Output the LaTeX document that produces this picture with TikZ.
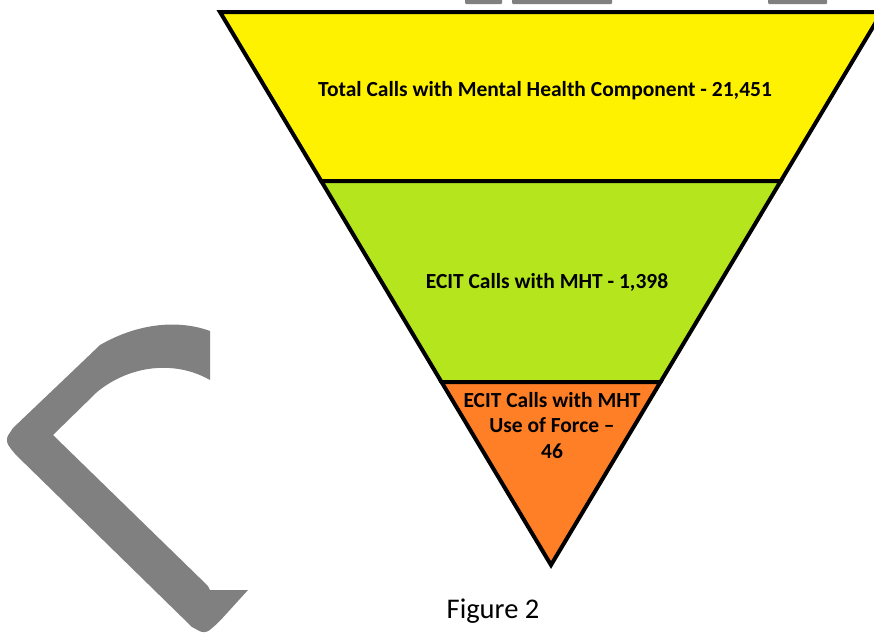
\documentclass[tikz,border=0pt]{standalone}
\usepackage{fontspec}
\setmainfont{Carlito}
\definecolor{ylw}{RGB}{255,242,0}
\definecolor{grn}{RGB}{181,230,29}
\definecolor{org}{RGB}{255,127,39}
\definecolor{gry}{RGB}{128,128,128}
\tikzset{
  band/.style={draw=black,line width=4pt,line join=miter},
  lbl/.style={font=\bfseries\fontsize{21.5}{25.5}\selectfont,align=center,text=black,inner sep=0pt},
  graybit/.style={fill=gry,draw=none}
}
\begin{document}
\begin{tikzpicture}[x=1pt,y=-1pt]
\useasboundingbox (0,0) rectangle (874,633);
\clip (0,0) rectangle (874,633);
% gray decorative shapes
\fill[graybit,rounded corners=1pt] (465,-3) rectangle (502,4);
\fill[graybit,rounded corners=1pt] (512,-3) rectangle (612,4);
\fill[graybit,rounded corners=1pt] (768,-3) rectangle (827,4);
\fill[graybit] (210,331) .. controls (180,320) and (140,322) .. (100,345)
  -- (77,367) -- (13,428) [rounded corners=6pt] -- (5,440) -- (13,452) [sharp corners]
  -- (192,627) [rounded corners=6pt] -- (205,634) -- (218,623) [sharp corners]
  -- (248,590) -- (210,590) -- (208,586) -- (53,435) -- (97,392)
  .. controls (130,365) and (175,360) .. (210,380) -- cycle;
% bands
\filldraw[band,fill=ylw] (220,12) -- (882,12) -- (780.8,181) -- (321.2,181) -- cycle;
\filldraw[band,fill=grn] (321.2,181) -- (780.8,181) -- (660.5,382) -- (441.5,382) -- cycle;
\filldraw[band,fill=org] (441.5,382) -- (660.5,382) -- (551,565) -- cycle;
% labels
\node[lbl] (t1) at (545,91) {Total Calls with Mental Health Component - 21,451};
\node[lbl] (t2) at (547,282) {ECIT Calls with MHT - 1,398};
\node[lbl,anchor=north] (t3) at (552,392) {ECIT Calls with MHT\\Use of Force --\\46};
\node[font=\fontsize{28.5}{32}\selectfont,inner sep=0pt] (fig) at (493,611) {Figure 2};
\end{tikzpicture}
\end{document}
